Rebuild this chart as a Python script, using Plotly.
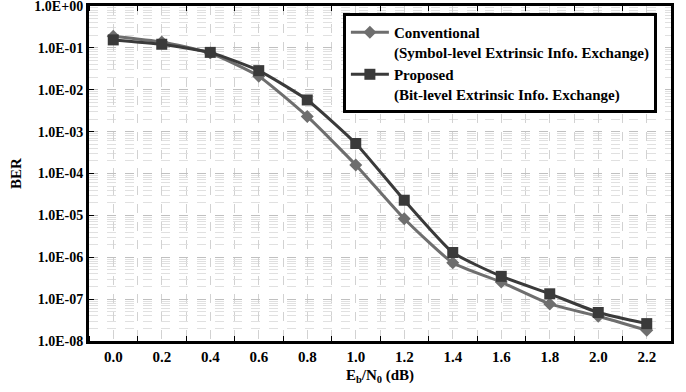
import plotly.graph_objects as go

ebn0 = [0.0, 0.2, 0.4, 0.6, 0.8, 1.0, 1.2, 1.4, 1.6, 1.8, 2.0, 2.2]
ber_conventional = [0.19, 0.138, 0.075, 0.021, 0.0023, 1.6e-4, 8.3e-6, 7.4e-7, 2.55e-7, 7.7e-8, 3.9e-8, 1.8e-8]
ber_proposed = [0.155, 0.122, 0.078, 0.0286, 0.0057, 5.2e-4, 2.3e-5, 1.3e-6, 3.5e-7, 1.34e-7, 4.8e-8, 2.6e-8]

x_tick_labels = ["0.0", "0.2", "0.4", "0.6", "0.8", "1.0", "1.2", "1.4", "1.6", "1.8", "2.0", "2.2"]
y_tick_vals = [1e0, 1e-1, 1e-2, 1e-3, 1e-4, 1e-5, 1e-6, 1e-7, 1e-8]
y_tick_labels = ["1.0E+00", "1.0E-01", "1.0E-02", "1.0E-03", "1.0E-04",
                 "1.0E-05", "1.0E-06", "1.0E-07", "1.0E-08"]

FONT = "Liberation Serif, Times New Roman, serif"

fig = go.Figure()
fig.add_trace(go.Scatter(
    x=ebn0, y=ber_conventional, mode="lines+markers",
    name="<b>Conventional</b><br><b>(Symbol-level Extrinsic Info. Exchange)</b>",
    line=dict(color="#6e6e6e", width=3, shape="spline", smoothing=0.5),
    marker=dict(symbol="diamond", size=10, color="#6e6e6e"),
))
fig.add_trace(go.Scatter(
    x=ebn0, y=ber_proposed, mode="lines+markers",
    name="<b>Proposed</b><br><b>(Bit-level Extrinsic Info. Exchange)</b>",
    line=dict(color="#3a3a3a", width=3, shape="spline", smoothing=0.5),
    marker=dict(symbol="square", size=11, color="#3a3a3a"),
))

minor_y = [m * 10.0 ** e for e in range(-8, 0) for m in range(2, 10)]

fig.update_layout(
    width=686, height=392,
    margin=dict(l=89, r=15, t=6, b=51, autoexpand=False),
    paper_bgcolor="white", plot_bgcolor="white",
    font=dict(family=FONT, size=15, color="black"),
    showlegend=True,
    legend=dict(
        x=0.706, y=0.979, xanchor="center", yanchor="top",
        bgcolor="white", bordercolor="black", borderwidth=3,
        font=dict(family=FONT, size=15, color="black"),
        valign="top", tracegroupgap=0, itemwidth=38,
    ),
    xaxis=dict(
        range=[-0.1, 2.3], automargin=False,
        tickvals=ebn0, ticktext=["<b>%s</b>" % t for t in x_tick_labels],
        tickfont=dict(family=FONT, size=15), ticklabeloverflow="allow",
        showgrid=True, gridcolor="#d2d2d2", griddash="dash", gridwidth=1,
        minor=dict(tick0=0.1, dtick=0.2, showgrid=True, gridcolor="#d2d2d2",
                   griddash="dash", gridwidth=1, ticks="inside", ticklen=5,
                   tickcolor="black"),
        showline=True, linecolor="black", linewidth=3, mirror="allticks",
        ticks="", zeroline=False,
        title=dict(text="<b>E<sub>b</sub>/N<sub>0</sub> (dB)</b>",
                   font=dict(family=FONT, size=15), standoff=6),
    ),
    yaxis=dict(
        type="log", range=[-8, 0], automargin=False,
        tickvals=y_tick_vals, ticktext=["<b>%s</b>" % t for t in y_tick_labels],
        tickfont=dict(family=FONT, size=14), ticklabeloverflow="allow",
        showgrid=True, gridcolor="#c0c0c0", griddash="dash", gridwidth=1,
        minor=dict(tickvals=minor_y, showgrid=True, gridcolor="#e0e0e0",
                   griddash="dash", gridwidth=1),
        showline=True, linecolor="black", linewidth=3, mirror=True,
        ticks="inside", ticklen=5, tickcolor="black",
        zeroline=False,
        title=dict(text="<b>BER</b>", font=dict(family=FONT, size=15), standoff=10),
    ),
)

fig.write_html("out.html", config={"displayModeBar": False},
               post_script="document.body.style.margin='0px';")
